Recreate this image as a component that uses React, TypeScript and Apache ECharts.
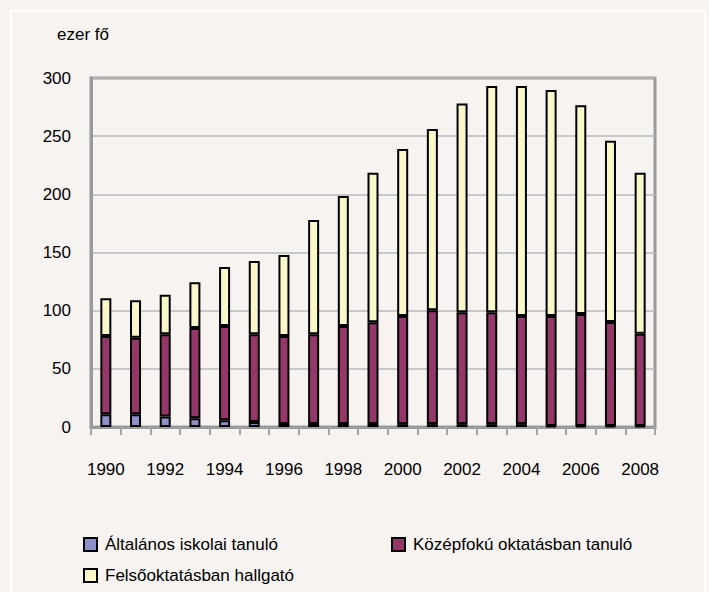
import React, { useEffect, useRef } from "react";
import * as echarts from "echarts";

const years = ["1990","1991","1992","1993","1994","1995","1996","1997","1998","1999","2000","2001","2002","2003","2004","2005","2006","2007","2008"];
const altalanos = [11, 11, 9, 7.5, 5.7, 4.3, 2.6, 2.6, 2.6, 2.6, 2.5, 2.5, 2.5, 2.5, 2.5, 0.8, 0.8, 0.8, 0.8];
const kozepfoku = [67.2, 65.8, 70.7, 77.6, 81.1, 75.4, 75.6, 77.1, 84.2, 87.4, 92.9, 97.8, 96.1, 96.1, 92.9, 94.6, 96.3, 89.5, 79.4];
const felsooktatas = [32.4, 32.1, 34.0, 39.3, 50.7, 63.0, 69.7, 98.3, 111.8, 128.6, 143.6, 155.9, 179.4, 194.5, 197.7, 194.3, 179.4, 155.8, 138.4];
const seriesNames = ["Általános iskolai tanuló", "Középfokú oktatásban tanuló", "Felsőoktatásban hallgató"];
const seriesColors = ["#8f90c9", "#94386a", "#faf8c8"];
const unitLabel = "ezer fő";

const FONT = "'Liberation Sans Narrow', 'Arial Narrow', 'Liberation Sans', Arial, sans-serif";
const FS = 17;
const BG = "#f6f3f0";

export default function App() {
  const ref = useRef<HTMLDivElement>(null);
  useEffect(() => {
    document.body.style.margin = "0";
    const chart = echarts.init(ref.current!, null, { renderer: "svg" });
    const data = [altalanos, kozepfoku, felsooktatas];
    const legendText = { fontFamily: FONT, fontSize: FS, color: "#000", padding: [0, 0, 0, 3] };
    chart.setOption({
      animation: false,
      backgroundColor: BG,
      textStyle: { fontFamily: FONT },
      title: {
        text: unitLabel,
        left: 52,
        top: 21,
        textStyle: { fontFamily: FONT, fontSize: FS, fontWeight: "normal", color: "#000" },
      },
      graphic: [
        {
          type: "rect",
          shape: { x: 11, y: 11, width: 694, height: 620 },
          style: { fill: "none", stroke: "#ffffff", lineWidth: 2 },
          silent: true,
        },
      ],
      grid: {
        left: 91,
        right: 54,
        top: 78,
        bottom: 165,
        show: true,
        borderColor: "#9a9a9c",
        borderWidth: 3,
        backgroundColor: "transparent",
      },
      legend: [
        { data: [seriesNames[0]], left: 78, top: 531, itemWidth: 13, itemHeight: 13, icon: "rect", textStyle: legendText },
        { data: [seriesNames[1]], left: 386, top: 531, itemWidth: 13, itemHeight: 13, icon: "rect", textStyle: legendText },
        { data: [seriesNames[2]], left: 78, top: 562, itemWidth: 13, itemHeight: 13, icon: "rect", textStyle: legendText },
      ],
      xAxis: {
        type: "category",
        data: years,
        boundaryGap: true,
        axisLine: { lineStyle: { color: "#9a9a9c", width: 3 } },
        axisTick: { show: true, alignWithLabel: false, interval: 0, length: 8, lineStyle: { color: "#a4a4a6", width: 2 } },
        axisLabel: { interval: 1, margin: 34, fontFamily: FONT, fontSize: FS, color: "#000" },
        splitLine: { show: false },
      },
      yAxis: {
        type: "value",
        min: 0,
        max: 300,
        interval: 50,
        axisLine: { show: true, lineStyle: { color: "#9a9a9c", width: 3 } },
        axisTick: { show: false },
        axisLabel: { margin: 20, fontFamily: FONT, fontSize: FS, color: "#000" },
        splitLine: { show: true, lineStyle: { color: "#b9b9bd", width: 1.5 } },
      },
      series: seriesNames.map((name, i) => ({
        name,
        type: "bar",
        stack: "total",
        data: data[i],
        barWidth: 11,
        itemStyle: { color: seriesColors[i], borderColor: "#000", borderWidth: 2 },
      })),
    });
    return () => chart.dispose();
  }, []);
  return <div ref={ref} style={{ position: "absolute", left: 0, top: 0, width: 709, height: 592 }} />;
}
